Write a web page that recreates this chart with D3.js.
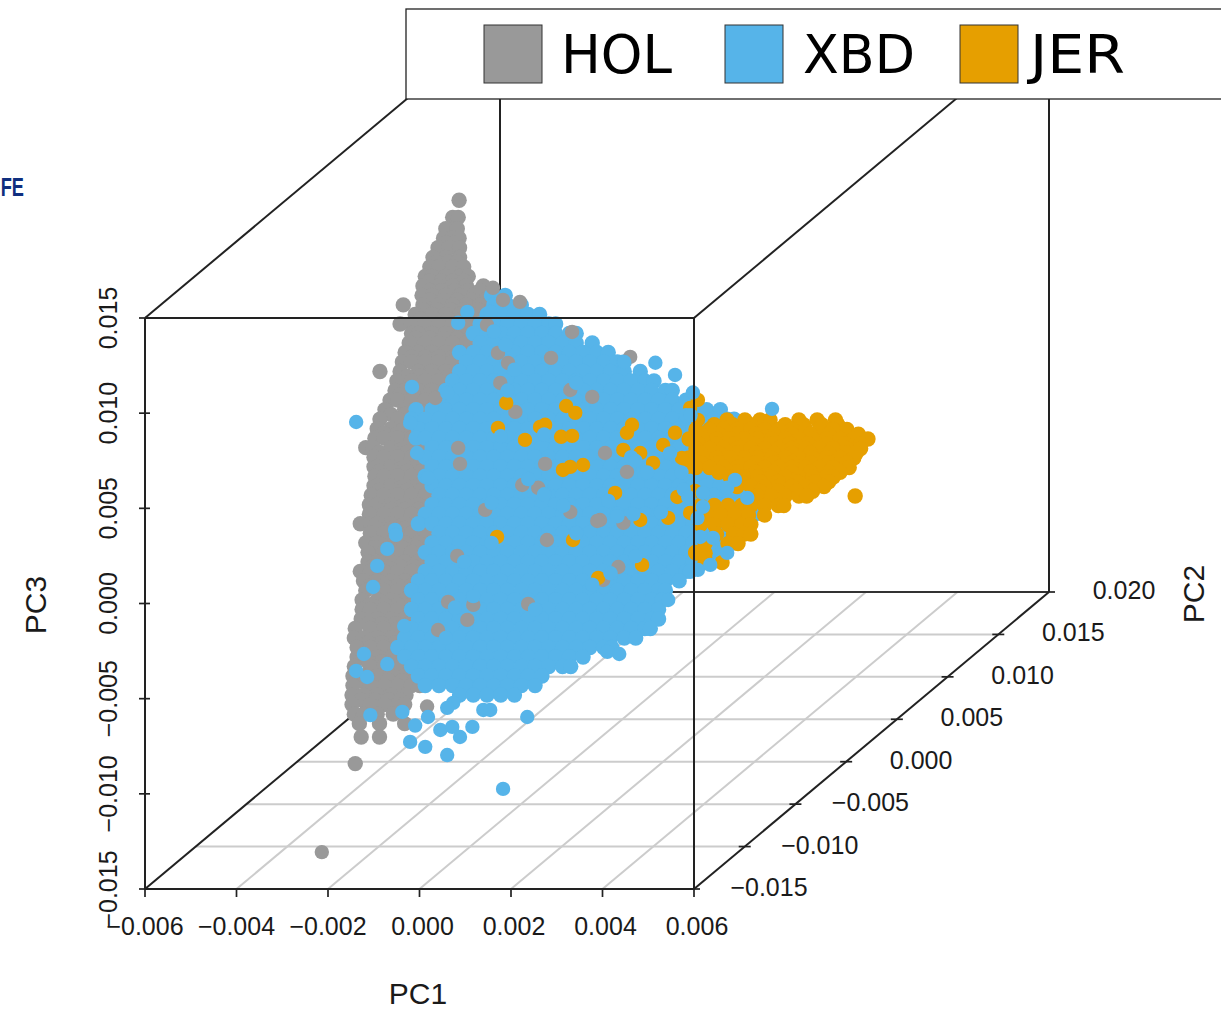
<!DOCTYPE html>
<html>
<head>
<meta charset="utf-8">
<script src="https://cdn.jsdelivr.net/npm/d3@7/dist/d3.min.js"></script>
<style>
  body { margin: 0; background: #fff; }
  svg { display: block; }
  text { font-family: "Liberation Sans", Arial, sans-serif; fill: #1a1a1a; }
</style>
</head>
<body>
<svg width="1221" height="1011"></svg>
<script>
// all values below are in units of 1e-3
var pc1Ticks = [-6, -4, -2, 0, 2, 4, 6];
var pc2Ticks = [-15, -10, -5, 0, 5, 10, 15, 20];
var pc3Ticks = [-15, -10, -5, 0, 5, 10, 15];
var groups = ["HOL", "XBD", "JER"];
var colours = ["#999999", "#56B4E9", "#E69F00"];

var holPC2 = 0;
var holRows = [
  [14.5, [-2.46]], [13.6, [-2.6, -2.48]], [13, [-2.75, -2.5]], [12.5, [-2.8, -2.6, -2.46]], [12.25, [-2.75, -2.55]],
  [12, [-2.92, -2.68, -2.45]], [11.5, [-3.03, -2.75, -2.45]], [11.25, [-2.95, -2.7, -2.5]], [11, [-3.1, -2.9, -2.6, -2.36]],
  [10.5, [-3.2, -3.05, -2.75, -2.45, -2.26]], [10.25, [-3.1, -2.85, -2.6, -2.35]], [10, [-3.25, -2.9, -2.6, -2.3, -1.93]],
  [9.75, [-3.1, -2.85, -2.55, -2.25, -2]], [9.5, [-3.27, -3.05, -2.75, -2.45, -2.15, -1.7]], [9.25, [-3.1, -2.8, -2.5, -2.2, -1.9, -1.65]],
  [9, [-3.68, -3.25, -2.9, -2.6, -2.3, -2, -1.5]], [8.75, [-3.25, -2.95, -2.65, -2.35, -2.05, -1.75]],
  [8.5, [-3.42, -3.05, -2.75, -2.45, -2.15, -1.85, -1.6]], [8.25, [-3.3, -3, -2.7, -2.4, -2.1, -1.85]],
  [8, [-3.75, -3.5, -3.2, -2.9, -2.6, -2.3, -2, -1.8]],
  [7.5, [-3.5, -3.35, -3.05, -2.75, -2.45, -2.15, -1.85]], [7.25, [-3.4, -3.1, -2.8, -2.5, -2.2]], [7, [-3.55, -3.2, -2.9, -2.6, -2.3, -2]],
  [6.5, [-3.64, -3.35, -3.05, -2.75, -2.45, -2.15]], [6.25, [-3.5, -3.2, -2.9, -2.6, -2.3]], [6, [-3.7, -3.5, -3.2, -2.9, -2.6, -2.3]],
  [5.5, [-4.19, -3.75, -3.35, -3.05, -2.75, -2.45, -2.15]], [5.25, [-3.6, -3.3, -3, -2.7, -2.4]], [5, [-3.82, -3.5, -3.2, -2.9, -2.6, -2.3]],
  [4.5, [-3.86, -3.65, -3.35, -3.05, -2.75, -2.45]], [4.25, [-3.75, -3.45, -3.15, -2.85]], [4, [-3.97, -3.8, -3.5, -3.2, -2.9, -2.6]],
  [3.5, [-4.08, -3.65, -3.35, -3.05, -2.75]], [3.25, [-3.95, -3.65, -3.35, -3.05]], [3, [-4.19, -3.8, -3.5, -3.2, -2.9]],
  [2.5, [-4.25, -3.95, -3.65, -3.35, -3.05, -2.75]], [2.25, [-4.1, -3.8, -3.5, -3.2]], [2, [-4.3, -4.1, -3.8, -3.5, -3.2, -2.9]],
  [1.5, [-4.5, -4.34, -3.95, -3.65, -3.35, -3.05, -2.75]], [1.25, [-4.2, -3.9, -3.6, -3.3, -3]], [1, [-4.32, -4.1, -3.8, -3.5, -3.2, -2.9]],
  [0.5, [-4.32, -4.25, -3.95, -3.65, -3.35, -3.05, -2.75]], [0.25, [-4.2, -3.9, -3.6, -3.3, -3]], [0, [-4.3, -4.1, -3.8, -3.5, -3.2, -2.9]],
  [-0.5, [-4.32, -4.25, -3.95, -3.65, -3.35, -3.05, -2.75]], [-0.75, [-4.2, -3.9, -3.6, -3.3, -3]], [-1, [-4.38, -4.1, -3.8, -3.5, -3.2, -2.9]],
  [-1.5, [-4.42, -4.25, -3.95, -3.65, -3.35, -3.05, -2.75]], [-1.75, [-4.25, -3.95, -3.65, -3.35, -3.05]], [-2, [-4.42, -4.1, -3.8, -3.5, -3.2, -2.9]],
  [-2.5, [-4.62, -4.4, -4.25, -3.95, -3.65, -3.35, -3.05, -2.75]], [-2.75, [-4.25, -3.95, -3.65, -3.35, -3.05]], [-3, [-4.4, -4.1, -3.8, -3.5, -3.2, -2.9]],
  [-3.5, [-4.5, -4.25, -3.95, -3.65, -3.35, -3.05]], [-3.75, [-4.3, -4, -3.7, -3.4, -3.1]], [-4, [-4.45, -4.1, -3.8, -3.5, -3.2, -2.9]],
  [-4.5, [-4.45, -4.25, -3.95, -3.65, -3.35, -3.05]], [-4.75, [-4.35, -4.05, -3.75, -3.45, -3.15]], [-5, [-4.62, -4.4, -4.1, -3.8, -3.5, -3.2]],
  [-5.5, [-4.55, -4.25, -3.95, -3.65, -3.35]], [-5.75, [-4.4, -4.1, -3.8, -3.5]], [-6, [-4.5, -4.1, -3.8, -3.5]],
  [-6.5, [-4.58, -4.25, -3.95, -3.65]], [-6.75, [-4.4, -4.1, -3.8, -3.5]], [-7, [-4.58, -4.4, -4.1, -3.8, -3.5]],
  [-7.5, [-4.6, -4.25, -3.95, -3.65]], [-7.75, [-4.45, -4.15, -3.85, -3.55]], [-8, [-4.73, -4.4, -4.1, -3.8, -3.5]],
  [-8.5, [-4.75, -4.55, -4.25, -3.95, -3.65]], [-8.75, [-4.45, -4.15, -3.85, -3.55]], [-9, [-4.69, -4.4, -4.1, -3.8, -3.5]],
  [-9.5, [-4.69, -4.55, -4.25, -3.95, -3.65, -3.35]], [-9.75, [-4.45, -4.15, -3.85, -3.55]], [-10, [-4.75, -4.4, -4.1, -3.8, -3.5, -3.2]],
  [-10.5, [-4.78, -4.55, -4.25, -3.95, -3.65, -3.3]], [-10.75, [-4.6, -4.3, -4, -3.7, -3.45]], [-11, [-4.78, -4.4, -4.1, -3.8, -3.5, -3.32]],
  [-11.5, [-4.8, -4.55, -4.25, -3.95, -3.62]], [-11.75, [-4.6, -4.3, -4, -3.75]], [-12, [-4.8, -4.4, -4.1, -3.8, -3.65]],
  [-12.5, [-4.75, -4.55, -4.25, -3.9]], [-13, [-4.64, -4.2, -3.65]], [-13.7, [-4.6, -4.2]], [-15.1, [-4.73]]
];
var xbdPC2 = 0;
var xbdRows = [
  [9.5, [-1.75, -1.45]], [9, [-1.7, -1.4, -1.1]], [8.5, [-1.85, -1.55, -1.25, -0.95, -0.7]],
  [8, [-2, -1.7, -1.4, -1.1, -0.8, -0.5, -0.35]],
  [7.5, [-2.15, -1.85, -1.55, -1.25, -0.95, -0.65, -0.35, -0.05, 0.1]],
  [7, [-2, -1.7, -1.4, -1.1, -0.8, -0.5, -0.2, 0.1, 0.45]],
  [6.5, [-2.45, -2.15, -1.85, -1.55, -1.25, -0.95, -0.65, -0.35, -0.05, 0.25, 0.55, 0.8]],
  [6, [-2.3, -2, -1.7, -1.4, -1.1, -0.8, -0.5, -0.2, 0.1, 0.4, 0.7, 1, 1.15]],
  [5.5, [-2.45, -2.15, -1.85, -1.55, -1.25, -0.95, -0.65, -0.35, -0.05, 0.25, 0.55, 0.85, 1.15, 1.5]],
  [5, [-2.6, -2.3, -2, -1.7, -1.4, -1.1, -0.8, -0.5, -0.2, 0.1, 0.4, 0.7, 1, 1.3, 1.6, 1.8]],
  [4.5, [-2.75, -2.45, -2.15, -1.85, -1.55, -1.25, -0.95, -0.65, -0.35, -0.05, 0.25, 0.55, 0.85, 1.15, 1.45, 1.75, 2.05, 2.2]],
  [4, [-2.9, -2.6, -2.3, -2, -1.7, -1.4, -1.1, -0.8, -0.5, -0.2, 0.1, 0.4, 0.7, 1, 1.3, 1.6, 1.9, 2.2, 2.5, 2.6]],
  [3.5, [-3.4, -3.05, -2.75, -2.45, -2.15, -1.85, -1.55, -1.25, -0.95, -0.65, -0.35, -0.05, 0.25, 0.55, 0.85, 1.15, 1.45, 1.75, 2.05, 2.35, 2.65, 2.95, 3.25]],
  [3, [-3.5, -3.2, -2.9, -2.6, -2.3, -2, -1.7, -1.4, -1.1, -0.8, -0.5, -0.2, 0.1, 0.4, 0.7, 1, 1.3, 1.6, 1.9, 2.2, 2.5, 2.8, 3.1, 3.4, 3.55]],
  [2.5, [-3.35, -3.05, -2.75, -2.45, -2.15, -1.85, -1.55, -1.25, -0.95, -0.65, -0.35, -0.05, 0.25, 0.55, 0.85, 1.15, 1.45, 1.75, 2.05, 2.35, 2.65, 2.95, 3.25, 3.55, 3.85]],
  [2, [-3.4, -3.2, -2.9, -2.6, -2.3, -2, -1.7, -1.4, -1.1, -0.8, -0.5, -0.2, 0.1, 0.4, 0.7, 1, 1.3, 1.6, 1.9, 2.2, 2.5, 2.8, 3.1, 3.4, 3.7, 4, 4.2]],
  [1.5, [-3.05, -2.75, -2.45, -2.15, -1.85, -1.55, -1.25, -0.95, -0.65, -0.35, -0.05, 0.25, 0.55, 0.85, 1.15, 1.45, 1.75, 2.05, 2.35, 2.65, 2.95, 3.25, 3.55, 3.85, 4.15]],
  [1, [-3.2, -2.9, -2.6, -2.3, -2, -1.7, -1.4, -1.1, -0.8, -0.5, -0.2, 0.1, 0.4, 0.7, 1, 1.3, 1.6, 1.9, 2.2, 2.5, 2.8, 3.1, 3.4, 3.7, 4]],
  [0.5, [-3.05, -2.75, -2.45, -2.15, -1.85, -1.55, -1.25, -0.95, -0.65, -0.35, -0.05, 0.25, 0.55, 0.85, 1.15, 1.45, 1.75, 2.05, 2.35, 2.65, 2.95, 3.25, 3.55, 3.85, 4.15]],
  [0, [-3.2, -2.9, -2.6, -2.3, -2, -1.7, -1.4, -1.1, -0.8, -0.5, -0.2, 0.1, 0.4, 0.7, 1, 1.3, 1.6, 1.9, 2.2, 2.5, 2.8, 3.1, 3.4, 3.7, 4]],
  [-0.5, [-3.05, -2.75, -2.45, -2.15, -1.85, -1.55, -1.25, -0.95, -0.65, -0.35, -0.05, 0.25, 0.55, 0.85, 1.15, 1.45, 1.75, 2.05, 2.35, 2.65, 2.95, 3.25, 3.55, 3.85, 4.15]],
  [-1, [-2.9, -2.6, -2.3, -2, -1.7, -1.4, -1.1, -0.8, -0.5, -0.2, 0.1, 0.4, 0.7, 1, 1.3, 1.6, 1.9, 2.2, 2.5, 2.8, 3.1, 3.4, 3.7, 4]],
  [-1.5, [-3.05, -2.75, -2.45, -2.15, -1.85, -1.55, -1.25, -0.95, -0.65, -0.35, -0.05, 0.25, 0.55, 0.85, 1.15, 1.45, 1.75, 2.05, 2.35, 2.65, 2.95, 3.25, 3.55, 3.85, 4.15]],
  [-2, [-3.2, -2.9, -2.6, -2.3, -2, -1.7, -1.4, -1.1, -0.8, -0.5, -0.2, 0.1, 0.4, 0.7, 1, 1.3, 1.6, 1.9, 2.2, 2.5, 2.8, 3.1, 3.4, 3.7, 4]],
  [-2.5, [-3.35, -3.05, -2.75, -2.45, -2.15, -1.85, -1.55, -1.25, -0.95, -0.65, -0.35, -0.05, 0.25, 0.55, 0.85, 1.15, 1.45, 1.75, 2.05, 2.35, 2.65, 2.95, 3.25, 3.55, 3.85]],
  [-3, [-2.9, -2.6, -2.3, -2, -1.7, -1.4, -1.1, -0.8, -0.5, -0.2, 0.1, 0.4, 0.7, 1, 1.3, 1.6, 1.9, 2.2, 2.5, 2.8, 3.1, 3.4, 3.7]],
  [-3.5, [-3.05, -2.75, -2.45, -2.15, -1.85, -1.55, -1.25, -0.95, -0.65, -0.35, -0.05, 0.25, 0.55, 0.85, 1.15, 1.45, 1.75, 2.05, 2.35, 2.65, 2.95, 3.25, 3.55]],
  [-4, [-3.2, -2.9, -2.6, -2.3, -2, -1.7, -1.4, -1.1, -0.8, -0.5, -0.2, 0.1, 0.4, 0.7, 1, 1.3, 1.6, 1.9, 2.2, 2.5, 2.8, 3.1, 3.3]],
  [-4.5, [-3.05, -2.75, -2.45, -2.15, -1.85, -1.55, -1.25, -0.95, -0.65, -0.35, -0.05, 0.25, 0.55, 0.85, 1.15, 1.45, 1.75, 2.05, 2.35, 2.65, 2.81]],
  [-5, [-3.2, -2.9, -2.6, -2.3, -2, -1.7, -1.4, -1.1, -0.8, -0.5, -0.2, 0.1, 0.4, 0.7, 1, 1.3, 1.6, 1.9, 2.2, 2.5, 2.59]],
  [-5.5, [-3.35, -3.05, -2.75, -2.45, -2.15, -1.85, -1.55, -1.25, -0.95, -0.65, -0.35, -0.05, 0.25, 0.55, 0.85, 1.15, 1.45, 1.75, 2.05, 2.35]],
  [-6, [-3.5, -3.2, -2.9, -2.6, -2.3, -2, -1.7, -1.4, -1.1, -0.8, -0.5, -0.2, 0.1, 0.4, 0.7, 1, 1.3, 1.6, 1.9, 2.05]],
  [-6.5, [-3.35, -3.05, -2.75, -2.45, -2.15, -1.85, -1.55, -1.25, -0.95, -0.65, -0.35, -0.05, 0.25, 0.55, 0.85, 1.15, 1.45, 1.75, 1.98]],
  [-7, [-3.5, -3.2, -2.9, -2.6, -2.3, -2, -1.7, -1.4, -1.1, -0.8, -0.5, -0.2, 0.1, 0.4, 0.7, 1, 1.3, 1.6, 1.9]],
  [-7.5, [-3.35, -3.05, -2.75, -2.45, -2.15, -1.85, -1.55, -1.25, -0.95, -0.65, -0.35, -0.05, 0.25, 0.55, 0.85, 1.15, 1.45, 1.75, 1.9]],
  [-8, [-3.5, -3.2, -2.9, -2.6, -2.3, -2, -1.7, -1.4, -1.1, -0.8, -0.5, -0.2, 0.1, 0.4, 0.7, 1, 1.3, 1.6, 1.72]],
  [-8.5, [-3.65, -3.35, -3.05, -2.75, -2.45, -2.15, -1.85, -1.55, -1.25, -0.95, -0.65, -0.35, -0.05, 0.25, 0.55, 0.85, 1.15, 1.4]],
  [-9, [-3.8, -3.5, -3.2, -2.9, -2.6, -2.3, -2, -1.7, -1.4, -1.1, -0.8, -0.5, -0.2, 0.1, 0.4, 0.7, 0.88]],
  [-9.5, [-3.65, -3.35, -3.05, -2.75, -2.45, -2.15, -1.85, -1.55, -1.25, -0.95, -0.65, -0.35, -0.05, 0.25]],
  [-10, [-3.5, -3.2, -2.9, -2.6, -2.3, -2, -1.7, -1.4, -1.1, -0.8, -0.5, -0.2, -0.02]],
  [-10.5, [-3.35, -3.05, -2.75, -2.45, -2.15, -1.85, -1.55, -1.25, -0.95, -0.65]],
  [-11, [-3.2, -2.9, -2.6, -2.3, -2, -1.7, -1.4, -1.1, -0.8]],
  [-11.5, [-2.45, -2.15, -1.85, -1.55, -1.25]]
];
var jerPC2 = 10;
var jerRows = [
  [-1.5, [1.18, 1.57, 1.9, 2.12, 2.75, 3.15, 3.55]],
  [-1.75, [0.9, 1.3, 1.7, 2.1, 2.45, 2.85, 3.25, 3.6]],
  [-2, [0.5, 0.8, 1.1, 1.4, 1.7, 2, 2.3, 2.6, 2.9, 3.2, 3.5, 3.8]],
  [-2.25, [0.6, 1, 1.4, 1.8, 2.2, 2.6, 3, 3.4, 3.8, 4.05]],
  [-2.5, [0.35, 0.65, 0.95, 1.25, 1.55, 1.85, 2.15, 2.45, 2.75, 3.05, 3.35, 3.65, 3.95, 4.26]],
  [-2.75, [0.55, 0.95, 1.35, 1.75, 2.15, 2.55, 2.95, 3.35, 3.75, 4.1]],
  [-3, [0.5, 0.8, 1.1, 1.4, 1.7, 2, 2.3, 2.6, 2.9, 3.2, 3.5, 3.8, 4.1]],
  [-3.25, [0.6, 1, 1.4, 1.8, 2.2, 2.6, 3, 3.4, 3.8, 4]],
  [-3.5, [0.35, 0.65, 0.95, 1.25, 1.55, 1.85, 2.15, 2.45, 2.75, 3.05, 3.35, 3.65, 3.95]],
  [-3.75, [0.6, 1, 1.4, 1.8, 2.2, 2.6, 3, 3.4, 3.8]],
  [-4, [0.5, 0.8, 1.1, 1.4, 1.7, 2, 2.3, 2.6, 2.9, 3.2, 3.5, 3.85]],
  [-4.25, [1, 1.4, 1.8, 2.2, 2.6, 3, 3.4, 3.65]],
  [-4.5, [1.25, 1.55, 1.85, 2.15, 2.45, 2.75, 3.05, 3.35, 3.5]],
  [-4.75, [1.5, 1.9, 2.3, 2.7, 3.1, 3.4]],
  [-5, [1.4, 1.7, 2, 2.3, 2.6, 2.9, 3.3]],
  [-5.25, [1.9, 2.3, 2.7, 3.05]],
  [-5.5, [1.85, 2.15, 2.45, 2.75, 2.92, 3.98]],
  [-6, [0.6, 0.9, 1.2, 1.5, 1.7, 2, 2.3, 2.42]],
  [-6.5, [0.75, 1.05, 1.35, 1.65, 2]],
  [-7, [0.6, 0.9, 1.2, 1.5, 1.7]],
  [-7.5, [0.95, 1.32, 1.55, 1.7]],
  [-8, [0.7, 1.2, 1.42]],
  [-8.5, [0.5, 0.7]],
  [-9, [0.7, 1.07]]
];
// single dots that sit on top of the other groups: [pc1, pc2, pc3]
var holExtra = [
  [-0.45, 0, 6.22], [0.45, 0, 4.17], [-1.39, 0, 5.95], [-1.61, 0, 6.48], [-1.85, 0, 7.95], [-1.5, 0, 9.26],
  [-1.13, 0, 9.16], [-1.72, 0, 9.9], [0.01, 0, 7.58], [-2.48, 0, 1.49], [-2.44, 0, 0.65], [-0.58, 0, 0.65],
  [-1.23, 0, 3.38], [-2.98, 0, 4.11], [-1.56, 0, 4.9], [-0.03, 0, 4.53], [1.28, 0, 6.27], [0.73, 0, 1.22],
  [1.02, 0, -4.77], [0.62, 0, -2.3], [0.69, 0, -5.45], [1.21, 0, 0.23], [0.56, 0, -2.35], [-2.28, 0, -7.55],
  [-3.16, 0, -12.1], [-2.15, 0, -6.76], [-2.7, 0, -6.6], [-2.92, 0, -8.08], [-0.03, 0, -1.88], [-1.89, 0, -1.77],
  [-1.08, 0, -0.46], [-0.73, 0, -0.61], [-0.95, 0, -6.71], [-2.5, 0, -4.19], [1.13, 0, -2.45], [-0.54, 0, -3.35],
  [-2.8, -12, -14.4]
];
var jerExtra = [
  [-1.43, 0, 3.85], [-0.12, 0, 3.69], [0.08, 0, 3.33], [-1.02, 0, 1.91], [-1.61, 0, 2.54], [-0.69, 0, 2.59],
  [-0.58, 0, 2.7], [-0.23, 0, 2.07], [0.01, 0, 2.12], [1.13, 0, 1.38], [1.21, 0, 2.28], [1.32, 0, 2.7],
  [-0.19, 0, 0.33], [-0.03, 0, 0.49], [0.25, 0, 0.59], [2.26, 0, 2.28], [2, 0, 1.64], [1.78, 0, 0.7],
  [1.5, 0, 1.22], [0.95, 0, -0.88], [2.31, 0, -1.09], [2.7, 0, -0.77], [2.11, 0, -2.19], [1.5, 0, -2.3],
  [1.54, 0, -4.66], [2.59, 0, 3.59], [2.76, 0, 4.01], [2.76, 0, 2.96], [2.55, 0, 0.49], [2.41, 0, 0.96],
  [2.59, 0, -1.93], [2.7, 0, -3.98], [2.92, 0, -4.29], [0.03, 0, -3.35], [-1.63, 0, -3.19], [0.58, 0, -5.34]
];
var xbdExtra = [
  [-2.28, 0, 8.63], [-1.78, 0, 8.63], [-2.48, 0, 8.06], [-3.49, 0, 4.69], [-2.72, 0, 4.38], [-3.53, 0, 2.8],
  [-3.38, 0, 1.22], [-3.14, 0, -0.09], [-4.71, 0, 2.85], [-3.86, 0, -2.82], [-4.03, 0, -3.82], [-3.84, 0, -3.08],
  [-4.25, 0, -4.71], [-4.34, 0, -5.82], [-3.66, 0, -7.87], [-4.54, 0, -9.34], [-4.71, 0, -10.23], [-4.03, 0, -9.87],
  [-3.7, 0, -12.38], [-3.42, 0, -13.1], [-4.4, 0, -12.55], [-4.47, 0, -10.55], [-3.14, 0, -12.65], [-2.87, 0, -13.33],
  [-2.61, 0, -13.17], [-2.44, 0, -13.7], [-2.17, 0, -13.17], [-3.53, 0, -13.96], [-3.2, 0, -14.22], [-2.72, 0, -14.65],
  [-1.93, 0, -12.28], [-1.78, 0, -12.28], [-0.97, 0, -12.65], [-2.59, 0, -11.91], [-2.72, 0, -12.17], [0.78, 0, -9.23],
  [1.04, 0, -9.34], [2.11, 0, -6.5], [4.38, 0, 3.54], [1.83, 0, 5.96], [2.26, 0, 5.32], [3.57, 0, -0.19],
  [3.84, 0, -1.14], [3.4, 0, -0.61], [2.87, 0, -0.88], [2.87, 0, -1.61], [3.09, 0, -3.24], [2.81, 0, -3.19],
  [3.4, 0, -4.03], [3.03, 0, -4.66], [2.76, 0, -4.92], [-0.39, -5, -14.2],
  // these partly cover the grey and orange dots above
  [-1.55, 0, 2.1], [-0.6, 0, 2.2], [1.3, 0, 1], [2.15, 0, 1.2], [1.65, 0, 0.2], [1.4, 0, 0.8], [0.8, 0, -1.3],
  [2.45, 0, -0.7], [2.55, 0, -1.1], [1.95, 0, -1.9], [1.35, 0, -2], [1.4, 0, -4.2], [2.5, 0, 3.2], [2.65, 0, 4.4],
  [2.6, 0, 3.2], [2.4, 0, 0.2], [0.1, 0, -3], [-1.75, 0, -3.5], [0.45, 0, -5.7], [2.75, 0, -2.2],
  [-1.25, 0, 5.6], [-1.45, 0, 6.9], [-1.7, 0, 7.6], [-1.4, 0, 4.5], [-0.95, 0, -0.15], [-0.6, 0, -0.95],
  [-0.18, 0, -1.55], [-2.75, 0, -8.5], [-2.55, 0, -6.9], [-2.15, 0, -6.3], [-0.8, 0, -7], [-2.35, 0, -4.5],
  [1, 0, -2.1], [0.85, 0, -5.1], [-1.75, 0, -1.4], [1.15, 0, 6], [0.1, 0, 4.9]
];

var svg = d3.select("svg");

// front face of the box, plus the shift each PC2 step adds going back
var xScale = d3.scaleLinear().domain([-6, 6]).range([145, 694]);
var zScale = d3.scaleLinear().domain([-15, 15]).range([889, 318]);
var depthX = d3.scaleLinear().domain([-15, 20]).range([0, 355]);
var depthY = d3.scaleLinear().domain([-15, 20]).range([0, -297]);

function px(a, b) { return xScale(a) + depthX(b); }
function py(b, c) { return zScale(c) + depthY(b); }

function flatten(rows, pc2) {
  var out = [];
  rows.forEach(function(r) {
    r[1].forEach(function(v) { out.push([v, pc2, r[0]]); });
  });
  return out;
}

function seg(g, x1, y1, x2, y2, colour, w) {
  g.append("line").attr("x1", x1).attr("y1", y1).attr("x2", x2).attr("y2", y2)
    .attr("stroke", colour).attr("stroke-width", w);
}

// back of the box and floor grid go under the points
var back = svg.append("g");
pc1Ticks.slice(1, -1).forEach(function(t) {
  seg(back, px(t, -15), py(-15, -15), px(t, 20), py(20, -15), "#cccccc", 2);
});
pc2Ticks.slice(1, -1).forEach(function(t) {
  seg(back, px(-6, t), py(t, -15), px(6, t), py(t, -15), "#cccccc", 2);
});
seg(back, px(-6, -15), py(-15, -15), px(-6, 20), py(20, -15), "#222", 2);
seg(back, px(-6, 20), py(20, -15), px(6, 20), py(20, -15), "#333", 2);
seg(back, px(-6, 20), py(20, -15), px(-6, 20), py(20, 15), "#222", 2);
seg(back, px(6, 20), py(20, -15), px(6, 20), py(20, 15), "#222", 2);

// draw order matters: the extras make the crescents inside the cloud
var layers = [
  [flatten(holRows, holPC2), colours[0], 7.7],
  [flatten(xbdRows, xbdPC2), colours[1], 7.7],
  [flatten(jerRows, jerPC2), colours[2], 7.7],
  [holExtra, colours[0], 7.2],
  [jerExtra, colours[2], 7.2],
  [xbdExtra, colours[1], 7.2]
];
layers.forEach(function(layer) {
  svg.append("g").selectAll("circle")
    .data(layer[0])
    .enter().append("circle")
      .attr("cx", function(d) { return px(d[0], d[1]); })
      .attr("cy", function(d) { return py(d[1], d[2]); })
      .attr("r", layer[2])
      .attr("fill", layer[1]);
});

// front edges go over the points
var front = svg.append("g");
seg(front, px(-6, -15), py(-15, 15), px(6, -15), py(-15, 15), "#222", 2);
seg(front, px(-6, -15), py(-15, -15), px(6, -15), py(-15, -15), "#222", 2);
seg(front, px(-6, -15), py(-15, -15), px(-6, -15), py(-15, 15), "#222", 2);
seg(front, px(6, -15), py(-15, -15), px(6, -15), py(-15, 15), "#222", 2);
seg(front, px(6, -15), py(-15, -15), px(6, 20), py(20, -15), "#222", 2);
seg(front, px(-6, -15), py(-15, 15), px(-6, 20), py(20, 15), "#222", 2);
seg(front, px(6, -15), py(-15, 15), px(6, 20), py(20, 15), "#222", 2);

var fmt = d3.format(".3f");
var tickFont = 25;

pc1Ticks.forEach(function(t) {
  var v = t / 1000;
  seg(front, xScale(t), 889, xScale(t), 897, "#222", 1.7);
  svg.append("text").attr("x", xScale(t) + (t >= 0 ? 3 : 0)).attr("y", 935)
    .attr("text-anchor", "middle").attr("font-size", tickFont).text(fmt(v));
});
pc3Ticks.forEach(function(t) {
  var v = t / 1000;
  seg(front, 139, zScale(t), 150, zScale(t), "#222", 1.7);
  svg.append("text").attr("transform", "translate(117," + zScale(t) + ") rotate(-90)")
    .attr("text-anchor", "middle").attr("font-size", tickFont).text(fmt(v));
});
pc2Ticks.forEach(function(t) {
  var v = t / 1000;
  var tx = px(6, t), ty = py(t, -15);
  seg(front, t === -15 || t === 20 ? tx : tx - 6, ty, tx + 6, ty, "#222", 1.7);
  svg.append("text").attr("x", tx + 75).attr("y", ty + 7)
    .attr("text-anchor", "middle").attr("font-size", tickFont).text(fmt(v));
});

// axis titles
svg.append("text").attr("x", 418).attr("y", 1004).attr("text-anchor", "middle")
  .attr("font-size", 30).text("PC1");
svg.append("text").attr("transform", "translate(46,605) rotate(-90)").attr("text-anchor", "middle")
  .attr("font-size", 30).text("PC3");
svg.append("text").attr("transform", "translate(1204,594) rotate(-90)").attr("text-anchor", "middle")
  .attr("font-size", 30).text("PC2");

// bit of slide text at the left edge
svg.append("text").attr("transform", "translate(24,196) scale(0.7,1)").attr("text-anchor", "end")
  .attr("font-size", 26).attr("font-weight", "bold").style("fill", "#0f2f7f").text("FE");

// legend box sits over the top of the cube
var swatchX = [484, 725, 960];
var labelX = [561, 803, 1030];
var labelW = [111, 112, 95];
svg.append("rect").attr("x", 406).attr("y", 9).attr("width", 830).attr("height", 90)
  .attr("fill", "#fff").attr("stroke", "#222").attr("stroke-width", 1.3);
groups.forEach(function(g, i) {
  svg.append("rect").attr("x", swatchX[i]).attr("y", 25).attr("width", 58).attr("height", 58)
    .attr("fill", colours[i]).attr("stroke", "#333").attr("stroke-width", 1);
  svg.append("text").attr("x", labelX[i]).attr("y", 73)
    .attr("textLength", labelW[i]).attr("lengthAdjust", "spacingAndGlyphs")
    .attr("font-size", 54).style("font-family", "'DejaVu Sans'").style("fill", "#000").text(g);
});
</script>
</body>
</html>
